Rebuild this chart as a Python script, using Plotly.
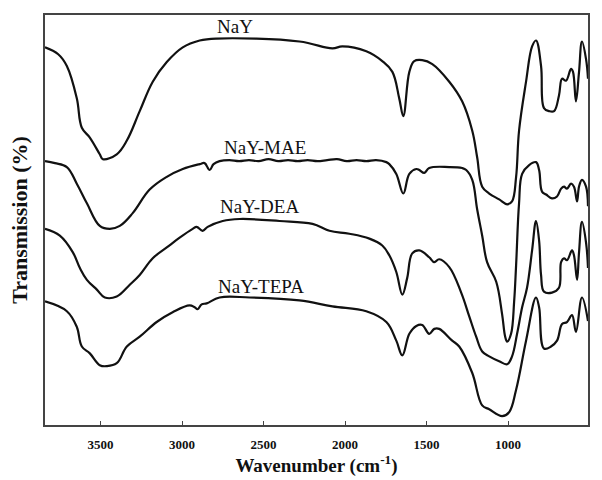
import plotly.graph_objects as go

# ---- data (wavenumber cm-1, transmission a.u.) ----
nay_x = [3841, 3760, 3707, 3646, 3615, 3566, 3505, 3486, 3401, 3339, 3260, 3180, 3094, 2996, 2892, 2788,
         2280, 2078, 2017, 1870, 1772, 1710, 1668, 1643, 1606, 1576, 1527, 1465, 1361, 1282, 1220,
         1190, 1159, 1116, 1055, 1006, 976, 951, 933, 890, 853, 829, 798, 780, 749, 718, 688, 669,
         645, 614, 602, 584, 565, 547, 522, 510]
nay_y = [385, 378, 366, 333, 303, 293, 276, 271, 276, 290, 320, 350, 370, 385, 392, 394,
         391, 384, 386, 381, 371, 360, 333, 315, 360, 371, 372, 368, 350, 330, 300,
         273, 243, 236, 230, 225, 228, 253, 300, 350, 386, 392, 366, 323, 320, 320, 336, 353,
         351, 363, 360, 330, 360, 391, 373, 353]

mae_x = [3841, 3780, 3707, 3646, 3584, 3505, 3443, 3382, 3303, 3199, 3094, 2996, 2892, 2862, 2831,
         2807, 2770, 2710, 2650, 2590, 2530, 2470, 2410, 2350, 2290, 2230, 2170, 2110, 2050, 1990,
         1930, 1870, 1810, 1747, 1729, 1686, 1643, 1606, 1563, 1545, 1514, 1484, 1361,
         1282, 1257, 1220, 1190, 1159, 1129, 1073, 1037, 1018, 1006, 982, 963, 951, 933, 914, 871,
         829, 810, 792, 767, 731, 700, 675, 657, 639, 614, 596, 577, 565, 547, 522, 510]
mae_y = [269, 267, 263, 246, 226, 203, 200, 203, 216, 240, 253, 261, 266, 267, 260,
         266, 269, 270, 269, 270, 269, 271, 269, 270, 269, 270, 269, 270, 271, 269,
         270, 269, 270, 268, 266, 256, 236, 256, 261, 260, 257, 262, 263,
         262, 260, 250, 220, 193, 166, 146, 113, 90, 85, 93, 126, 163, 226, 256, 265,
         268, 260, 238, 235, 231, 233, 241, 243, 241, 246, 243, 228, 243, 250, 243, 223]

dea_x = [3841, 3750, 3670, 3627, 3584, 3523, 3474, 3401, 3321, 3260, 3180, 3094, 3015, 2935, 2911,
         2874, 2843, 2751, 2647, 2402, 2200, 2096, 1974, 1851, 1772, 1729, 1686, 1649, 1619, 1588,
         1545, 1484, 1453, 1423, 1361, 1288, 1239, 1196, 1159, 1116, 1055, 1006, 976, 945, 914,
         884, 853, 829, 810, 798, 780, 731, 688, 675, 657, 639, 608, 596, 577, 565, 547, 522, 510]
dea_y = [200, 193, 176, 160, 148, 138, 130, 131, 143, 153, 170, 181, 191, 200, 202,
         198, 202, 208, 210, 208, 205, 198, 195, 190, 183, 173, 156, 133, 150, 175,
         178, 171, 166, 169, 161, 135, 111, 90, 75, 70, 65, 62, 70, 93, 120,
         140, 178, 208, 188, 153, 136, 135, 140, 166, 170, 168, 178, 173, 148, 176, 207, 186, 160]

tepa_x = [3841, 3707, 3646, 3615, 3566, 3505, 3462, 3401, 3339, 3260, 3156, 3058, 2954, 2923, 2905,
          2880, 2849, 2770, 2586, 2280, 2078, 1870, 1747, 1686, 1649, 1606, 1563, 1527, 1484, 1453,
          1423, 1343, 1300, 1220, 1159, 1116, 1037, 994, 951, 890, 829, 810, 780, 737, 700, 669,
          639, 608, 584, 547, 510]
tepa_y = [126, 116, 100, 80, 73, 61, 60, 63, 80, 90, 105, 115, 122, 120, 118,
          123, 124, 130, 130, 127, 121, 116, 105, 86, 71, 93, 101, 102, 93, 98,
          98, 86, 80, 53, 20, 16, 9, 13, 36, 86, 130, 120, 78, 80, 86, 103,
          105, 112, 95, 130, 106]

series = [("NaY", nay_x, nay_y), ("NaY-MAE", mae_x, mae_y),
          ("NaY-DEA", dea_x, dea_y), ("NaY-TEPA", tepa_x, tepa_y)]

labels = ["NaY", "NaY-MAE", "NaY-DEA", "NaY-TEPA"]
label_x = [2678, 2494, 2525, 2513]
label_y = [406, 283, 223, 141]

tick_vals = [3500, 3000, 2500, 2000, 1500, 1000, 500]

serif = "Liberation Serif, Times New Roman, serif"

fig = go.Figure()
for name, xs, ys in series:
    fig.add_trace(go.Scatter(x=xs, y=ys, mode="lines", name=name,
                             line=dict(color="#111111", width=2.2, shape="spline", smoothing=1.1),
                             showlegend=False, hoverinfo="skip"))

for t, lx, ly in zip(labels, label_x, label_y):
    fig.add_annotation(x=lx, y=ly, text=t, showarrow=False,
                       font=dict(family=serif, size=19, color="#111111"))

fig.update_layout(
    width=602, height=480,
    margin=dict(l=45, r=13, t=15, b=47),
    paper_bgcolor="white", plot_bgcolor="white",
    font=dict(family=serif, color="#111111"),
)
fig.update_xaxes(
    range=[3841, 510], tickvals=tick_vals, ticktext=[str(v) for v in tick_vals],
    ticks="outside", ticklen=7, tickcolor="rgba(0,0,0,0)", tickwidth=1,
    minor=dict(ticks="inside", tickvals=tick_vals, ticklen=4, tickcolor="#444444",
               tickwidth=1, showgrid=False),
    showline=True, linecolor="#444444", linewidth=1.5, mirror=True,
    showgrid=False, zeroline=False,
    tickfont=dict(family=serif, size=13, color="#111111", weight="bold"),
    title=dict(text="Wavenumber (cm<sup>-1</sup>)", standoff=2,
               font=dict(family=serif, size=19, color="#111111", weight="bold")),
)
fig.update_yaxes(
    range=[0, 418], showticklabels=False, ticks="",
    showline=True, linecolor="#444444", linewidth=1.5, mirror=True,
    showgrid=False, zeroline=False,
    title=dict(text="Transmission (%)", standoff=10,
               font=dict(family=serif, size=22, color="#111111", weight="bold")),
)

fig.write_html("out.html")
